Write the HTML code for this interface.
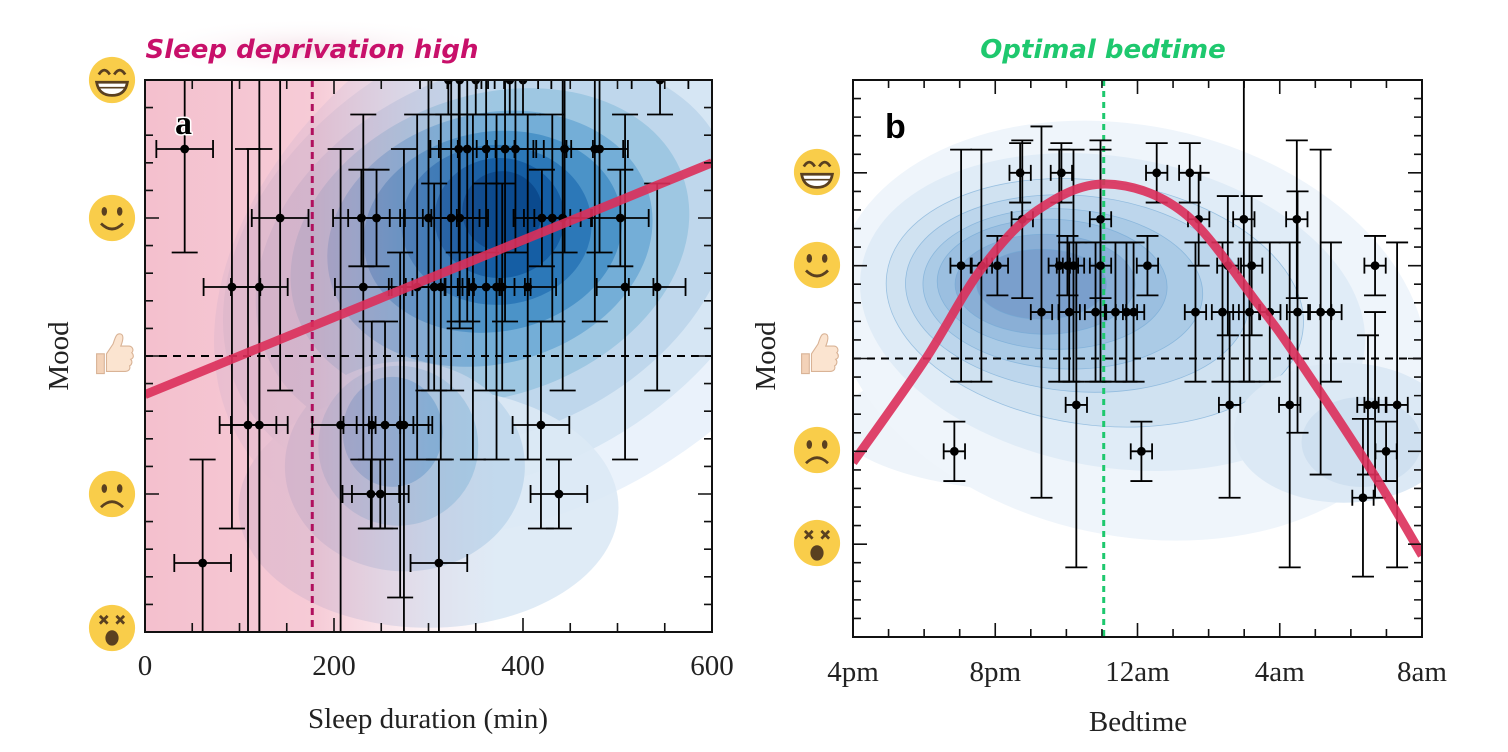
<!DOCTYPE html>
<html><head><meta charset="utf-8">
<style>
html,body{margin:0;padding:0;background:#fff;}
svg{display:block;}
</style></head>
<body>
<svg id="chart" width="1508" height="752" viewBox="0 0 1508 752" xmlns="http://www.w3.org/2000/svg">
<defs>
  <clipPath id="clipA"><rect x="145" y="80" width="567" height="552"/></clipPath>
  <clipPath id="clipB"><rect x="853" y="80" width="569" height="557"/></clipPath>
  <linearGradient id="pinkGrad" x1="145" y1="0" x2="712" y2="0" gradientUnits="userSpaceOnUse">
    <stop offset="0" stop-color="rgb(235,140,165)" stop-opacity="0.55"/>
    <stop offset="0.3" stop-color="rgb(235,140,165)" stop-opacity="0.45"/>
    <stop offset="0.5" stop-color="rgb(235,150,175)" stop-opacity="0.12"/>
    <stop offset="0.62" stop-color="rgb(235,160,180)" stop-opacity="0"/>
  </linearGradient>
  <radialGradient id="titleGlow">
    <stop offset="0" stop-color="#f6e3ea" stop-opacity="1"/>
    <stop offset="1" stop-color="#fff" stop-opacity="0"/>
  </radialGradient>
</defs>
<rect x="0" y="0" width="1508" height="752" fill="#fff"/>
<ellipse cx="312" cy="48" rx="180" ry="30" fill="url(#titleGlow)"/>
<g id="panelA"></g>
<g id="panelB"></g>
<text x="312" y="58" font-family="'DejaVu Sans','Liberation Sans',sans-serif" font-style="italic" font-weight="bold" font-size="26" fill="#c8106a" text-anchor="middle">Sleep deprivation high</text>
<text x="1103" y="58" font-family="'DejaVu Sans','Liberation Sans',sans-serif" font-style="italic" font-weight="bold" font-size="26" fill="#1ec86e" text-anchor="middle">Optimal bedtime</text>
</svg>
<script>
// ---------- Panel A data ----------
const aSleep = [42, 321,333,350,386,400,545, 332,341,361,381,392,444,476,481, 143,229,245,300,324,333,420,431,442,503, 92,121,231,288,306,313,347,361,372,378,405,508,542, 109,121,207,240,254,270,274,419, 239,249,438, 61,311];
const aMood  = [4.5, 5,5,5,5,5,5, 4.5,4.5,4.5,4.5,4.5,4.5,4.5,4.5, 4,4,4,4,4,4,4,4,4,4, 3.5,3.5,3.5,3.5,3.5,3.5,3.5,3.5,3.5,3.5,3.5,3.5,3.5, 2.5,2.5,2.5,2.5,2.5,2.5,2.5,2.5, 2,2,2, 1.5,1.5];
const aMoodErr = [0.75, 0.25,1.8,0.25,0.25,0.25,0.25, 0.75,1.25,0.75,1.25,0.75,0.75,1.25,0.75, 1.25,0.35,0.35,1.25,1.25,0.75,0.35,0.75,1.25,0.35, 1.75,3.0,1.25,1.25,0.75,1.25,1.25,0.75,1.25,0.75,1.25,1.25,0.75, 2.0,2.0,2.0,0.75,0.75,1.25,2.0,0.75, 0.25,0.25,0.25, 0.75,0.75];
const aSleepErr = 30;
const aFitEnds = [[0, 2.72],[600, 4.40]];
const aThreshold = 177;
const aXTicks = [0,200,400,600];
// ---------- Panel B data ----------
const bHours = [4.7,5.86,8.54,9.47, 4.76,6.96,9.72,10.99,12.48, 3.04,3.61,4.06,5.8,6.03,6.2,6.96,8.28,10.54,11.21,14.68, 5.3,6.08,6.82,7.38,7.69,7.89,9.63,10.39,11.15,11.72,12.5,13.15,13.44, 6.28,10.59,12.28,14.48,14.68,15.3, 2.85,8.11,14.99, 14.34];
const bMood  = [5,5,5,5, 4.5,4.5,4.5,4.5,4.5, 4,4,4,4,4,4,4,4,4,4,4, 3.5,3.5,3.5,3.5,3.5,3.5,3.5,3.5,3.5,3.5,3.5,3.5,3.5, 2.5,2.5,2.5,2.5,2.5,2.5, 2,2,2, 1.5];
const bMoodErr = [0.32,0.32,0.32,0.32, 0.85,0.85,0.5,1.75,0.85, 1.25,1.25,0.32,1.25,0.32,1.25,1.25,0.32,0.75,0.75,0.32, 2.0,0.75,0.75,0.75,0.75,0.75,0.75,0.75,0.75,0.75,1.3,1.75,0.75, 1.75,1.0,1.75,0.75,1.0,1.75, 0.32,0.32,0.32, 0.85];
const bHourErr = 0.3;
const bFitHours = [0, 2, 3.6, 5.2, 7.1, 9.3, 11.4, 12.5, 14.6, 16];
const bFitMood  = [1.88, 2.97, 3.96, 4.6, 4.88, 4.57, 3.58, 3.0, 1.78, 0.88];
const bOptimal = 7.05;
const bXTickLabels = ['4pm','8pm','12am','4am','8am'];
const bXTickHours = [0,4,8,12,16];

const NS='http://www.w3.org/2000/svg';
function mk(tag, attrs, parent){const e=document.createElementNS(NS,tag);for(const k in attrs)e.setAttribute(k,attrs[k]);parent.appendChild(e);return e;}

const xa = v => 145 + v*(567/600);
const ya = m => 80 + (5-m)*138;
const xb = h => 853 + h*(569/16);
const yb = m => 80 + (6-m)*(557/6);

const gA=document.getElementById('panelA');
const gB=document.getElementById('panelB');

// ---- Panel A KDE ----
const kdeA = mk('g',{'clip-path':'url(#clipA)'},gA);


const blues=['#eaf2fb','#d6e6f4','#bfd7ec','#9ec7e2','#74aed7','#4b93c8','#2c78b8','#155ea4','#0b4a8e'];
const layersA=[[420,3.8,360,250,-35],[380,3.75,300,215,-30],[370,3.75,250,180,-25],[365,3.8,205,150,-20],[365,3.85,165,125,-15],[368,3.9,130,100,-10],[372,3.95,95,80,0],[375,4.0,65,60,0],[378,4.05,40,40,0]];
layersA.forEach((l,i)=>{const e=mk('ellipse',{cx:xa(l[0]),cy:ya(l[1]),rx:l[2],ry:l[3],transform:`rotate(${l[4]} ${xa(l[0])} ${ya(l[1])})`,fill:blues[i]},kdeA);
  
  });
[[300,1.9,190,120,'#dce9f5'],[275,2.2,120,105,'#bfd7ec'],[268,2.35,80,80,'#9ec7e2'],[262,2.45,50,55,'#74aed7']].forEach(l=>{const e=mk('ellipse',{cx:xa(l[0]),cy:ya(l[1]),rx:l[2],ry:l[3],fill:l[4],opacity:0.9},kdeA);
  
  });
const pink=mk('rect',{x:145,y:80,width:567,height:552,fill:'url(#pinkGrad)'},kdeA);



// ---- Panel B KDE ----
const kdeB = mk('g',{'clip-path':'url(#clipB)'},gB);


const lowB=mk('ellipse',{cx:xb(6),cy:yb(2.3),rx:230,ry:70,fill:'#eef4fa'},kdeB);


const layersB=[[7.8,3.3,300,205,12],[7.3,3.5,255,155,10],[6.8,3.6,210,122,8],[6.3,3.7,172,98,5],[5.9,3.75,140,80,3],[5.6,3.8,115,65,2],[5.4,3.8,90,50,0],[5.3,3.8,65,35,0]];
const bFill=['#eff5fb','#e0ecf7','#d0e2f1','#bdd6ec','#abcbe6','#9bbfe0','#8aafd6','#7a9fcc'];
layersB.forEach((l,i)=>{const e=mk('ellipse',{cx:xb(l[0]),cy:yb(l[1]),rx:l[2],ry:l[3],transform:`rotate(${l[4]} ${xb(l[0])} ${yb(l[1])})`,fill:bFill[i],stroke:'#6fa6d4','stroke-width':i>1?0.8:0,'stroke-opacity':0.6},kdeB);
  
  });
[[13.8,2.2,110,70,'#dce9f5'],[14.3,2.1,60,45,'#cfe0f0']].forEach(l=>{const e=mk('ellipse',{cx:xb(l[0]),cy:yb(l[1]),rx:l[2],ry:l[3],fill:l[4]},kdeB);
  
  });

function frame(g,x0,y0,x1,y1,name){const r=mk('rect',{x:x0,y:y0,width:x1-x0,height:y1-y0,fill:'none',stroke:'#111','stroke-width':2},g);
  
  }
function ticks(g,positions,orient,x0,y0,x1,y1,name){
  positions.forEach(p=>{
    let l;
    if(orient==='x'){
      l=mk('path',{d:`M${p.v},${y1}v${-p.len}M${p.v},${y0}v${p.len}`,stroke:'#111','stroke-width':1.6},g);
    } else {
      l=mk('path',{d:`M${x0},${p.v}h${p.len}M${x1},${p.v}h${-p.len}`,stroke:'#111','stroke-width':1.6},g);
    }
    
    
  });
}
function errbars(g,xs,ys,xe,ye,capX,capY,name){
  for(let i=0;i<xs.length;i++){
    const grp=mk('g',{},g);
    
    
    const p=xs[i],q=ys[i],xl=xe[0][i],xr=xe[1][i],yt=ye[0][i],ybt=ye[1][i];
    mk('path',{d:`M${p},${yt}V${ybt}M${p-capX},${yt}h${2*capX}M${p-capX},${ybt}h${2*capX}M${xl},${q}H${xr}M${xl},${q-capY}v${2*capY}M${xr},${q-capY}v${2*capY}`,stroke:'#000','stroke-width':1.8,fill:'none'},grp);
    mk('circle',{cx:p,cy:q,r:4.4,fill:'#000'},grp);
  }
}

// ---- Panel A marks ----
const marksA=mk('g',{'clip-path':'url(#clipA)'},gA);


const tv=mk('line',{x1:xa(aThreshold),x2:xa(aThreshold),y1:80,y2:632,stroke:'#b0105e','stroke-width':3,'stroke-dasharray':'7 5'},marksA);


const hA=mk('line',{x1:145,x2:712,y1:ya(3),y2:ya(3),stroke:'#000','stroke-width':2,'stroke-dasharray':'8 6'},marksA);


errbars(marksA, aSleep.map(xa), aMood.map(ya),
  [aSleep.map(v=>xa(v-aSleepErr)), aSleep.map(v=>xa(v+aSleepErr))],
  [aMood.map((m,i)=>ya(m+aMoodErr[i])), aMood.map((m,i)=>ya(m-aMoodErr[i]))], 13, 9, 'data-point-a');
const fitA=mk('line',{x1:xa(aFitEnds[0][0]),y1:ya(aFitEnds[0][1]),x2:xa(aFitEnds[1][0]),y2:ya(aFitEnds[1][1]),stroke:'#dc2f5a','stroke-width':9,'stroke-opacity':0.9},marksA);



const tA=[];for(let v=0;v<=600;v+=50)tA.push({v:xa(v),len:v%200===0?14:9});
ticks(gA,tA,'x',145,80,712,632,'x-tick-a');
const tAy=[];for(let k=0;k<=20;k++){const m=1+k*0.2;tAy.push({v:ya(m),len:Math.abs(m-Math.round(m))<0.01?14:8});}
ticks(gA,tAy,'y',145,80,712,632,'y-tick-a');
frame(gA,145,80,712,632,'plot-frame-a');
const la=mk('text',{x:175,y:134,'font-family':"'Liberation Serif',serif",'font-weight':'bold','font-size':34,fill:'#000',stroke:'#fff','stroke-width':3,'paint-order':'stroke'},gA);la.textContent='a';


aXTicks.forEach(v=>{const t=mk('text',{x:xa(v),y:675,'text-anchor':'middle','font-family':"'Liberation Serif',serif",'font-size':29,fill:'#222'},gA);t.textContent=v;
  
  });
const xtA=mk('text',{x:428,y:728,'text-anchor':'middle','font-family':"'Liberation Serif',serif",'font-size':29,fill:'#222'},gA);xtA.textContent='Sleep duration (min)';


const ytA=mk('text',{x:0,y:0,transform:'translate(68,356) rotate(-90)','text-anchor':'middle','font-family':"'Liberation Serif',serif",'font-size':29,fill:'#222'},gA);ytA.textContent='Mood';



// ---- Panel B marks ----
const marksB=mk('g',{'clip-path':'url(#clipB)'},gB);


const hB=mk('line',{x1:853,x2:1422,y1:yb(3),y2:yb(3),stroke:'#000','stroke-width':2,'stroke-dasharray':'8 6'},marksB);


const gv=mk('line',{x1:xb(bOptimal),x2:xb(bOptimal),y1:80,y2:637,stroke:'#1ec86e','stroke-width':3,'stroke-dasharray':'6 5'},marksB);


errbars(marksB, bHours.map(xb), bMood.map(yb),
  [bHours.map(h=>xb(h-bHourErr)), bHours.map(h=>xb(h+bHourErr))],
  [bMood.map((m,i)=>yb(m+bMoodErr[i])), bMood.map((m,i)=>yb(m-bMoodErr[i]))], 11, 8, 'data-point-b');
const fp=bFitHours.map((h,i)=>[xb(h),yb(bFitMood[i])]);
let d=`M${fp[0][0]},${fp[0][1]}`;
for(let i=0;i<fp.length-1;i++){const p0=fp[Math.max(0,i-1)],p1=fp[i],p2=fp[i+1],p3=fp[Math.min(fp.length-1,i+2)];
  d+=`C${p1[0]+(p2[0]-p0[0])/6},${p1[1]+(p2[1]-p0[1])/6} ${p2[0]-(p3[0]-p1[0])/6},${p2[1]-(p3[1]-p1[1])/6} ${p2[0]},${p2[1]}`;}
const fitB=mk('path',{d:d,fill:'none',stroke:'#dc2f5a','stroke-width':9,'stroke-opacity':0.9},marksB);



const tB=[];for(let h=0;h<=16;h++)tB.push({v:xb(h),len:h%4===0?14:8});
ticks(gB,tB,'x',853,80,1422,637,'x-tick-b');
const tBy=[];for(let k=0;k<=30;k++){const m=k*0.2;tBy.push({v:yb(m),len:Math.abs(m-Math.round(m))<0.01?14:8});}
ticks(gB,tBy,'y',853,80,1422,637,'y-tick-b');
frame(gB,853,80,1422,637,'plot-frame-b');
const lb=mk('text',{x:885,y:138,'font-family':"'Liberation Sans',sans-serif",'font-weight':'bold','font-size':34,fill:'#000'},gB);lb.textContent='b';


bXTickLabels.forEach((s,i)=>{const t=mk('text',{x:xb(bXTickHours[i]),y:681,'text-anchor':'middle','font-family':"'Liberation Serif',serif",'font-size':29,fill:'#222'},gB);t.textContent=s;
  
  });
const xtB=mk('text',{x:1138,y:731,'text-anchor':'middle','font-family':"'Liberation Serif',serif",'font-size':29,fill:'#222'},gB);xtB.textContent='Bedtime';


const ytB=mk('text',{x:0,y:0,transform:'translate(775,356) rotate(-90)','text-anchor':'middle','font-family':"'Liberation Serif',serif",'font-size':29,fill:'#222'},gB);ytB.textContent='Mood';



// ---- emoji icons ----
const svg=document.getElementById('chart');
function face(cx,cy,type,name){
  const g=mk('g',{transform:`translate(${cx},${cy}) scale(1.1)`},svg);
  
  
  if(type==='thumb'){
    mk('path',{d:'M-14,-2h7v18h-7z',fill:'#f3d2b8',stroke:'#d9b396','stroke-width':1},g);
    mk('path',{d:'M-5,-2l6,-9c2,-6 3,-10 7,-9c3,1 2,6 0,11h7c4,0 5,4 3,6c2,2 2,5 -1,6c2,2 1,5 -1,6c1,3 -1,5 -4,5h-17z',fill:'#fbe4d0',stroke:'#d9b396','stroke-width':1},g);
    return;
  }
  mk('circle',{cx:0,cy:0,r:21,fill:'#f9cd4a'},g);
  if(type==='grin'){
    mk('path',{d:'M-12,-5q5,-8 10,0M2,-5q5,-8 10,0',stroke:'#5a4020','stroke-width':2.5,fill:'none'},g);
    mk('path',{d:'M-14,2h28q-2,12 -14,12q-12,0 -14,-12z',fill:'#fff',stroke:'#5a4020','stroke-width':2.5},g);
    mk('path',{d:'M-13,7h26',stroke:'#5a4020','stroke-width':1.5},g);
  } else if(type==='smile'){
    mk('ellipse',{cx:-7,cy:-6,rx:2.5,ry:4,fill:'#5a4020'},g);
    mk('ellipse',{cx:7,cy:-6,rx:2.5,ry:4,fill:'#5a4020'},g);
    mk('path',{d:'M-10,5q10,10 20,0',stroke:'#5a4020','stroke-width':2.5,fill:'none'},g);
  } else if(type==='sad'){
    mk('ellipse',{cx:-7,cy:-5,rx:2.5,ry:4,fill:'#5a4020'},g);
    mk('ellipse',{cx:7,cy:-5,rx:2.5,ry:4,fill:'#5a4020'},g);
    mk('path',{d:'M-10,12q10,-10 20,0',stroke:'#5a4020','stroke-width':2.5,fill:'none'},g);
  } else {
    mk('path',{d:'M-11,-11l7,7M-4,-11l-7,7M4,-11l7,7M11,-11l-7,7',stroke:'#5a4020','stroke-width':2.5},g);
    mk('ellipse',{cx:0,cy:9,rx:6,ry:7,fill:'#5a4020'},g);
  }
}
face(112,80,'grin','mood-icon-ecstatic-a');face(112,218,'smile','mood-icon-happy-a');face(112,356,'thumb','mood-icon-ok-a');face(112,494,'sad','mood-icon-sad-a');face(112,628,'dead','mood-icon-exhausted-a');
face(817,172,'grin','mood-icon-ecstatic-b');face(817,265,'smile','mood-icon-happy-b');face(817,356,'thumb','mood-icon-ok-b');face(817,450,'sad','mood-icon-sad-b');face(817,543,'dead','mood-icon-exhausted-b');
</script>
</body></html>
